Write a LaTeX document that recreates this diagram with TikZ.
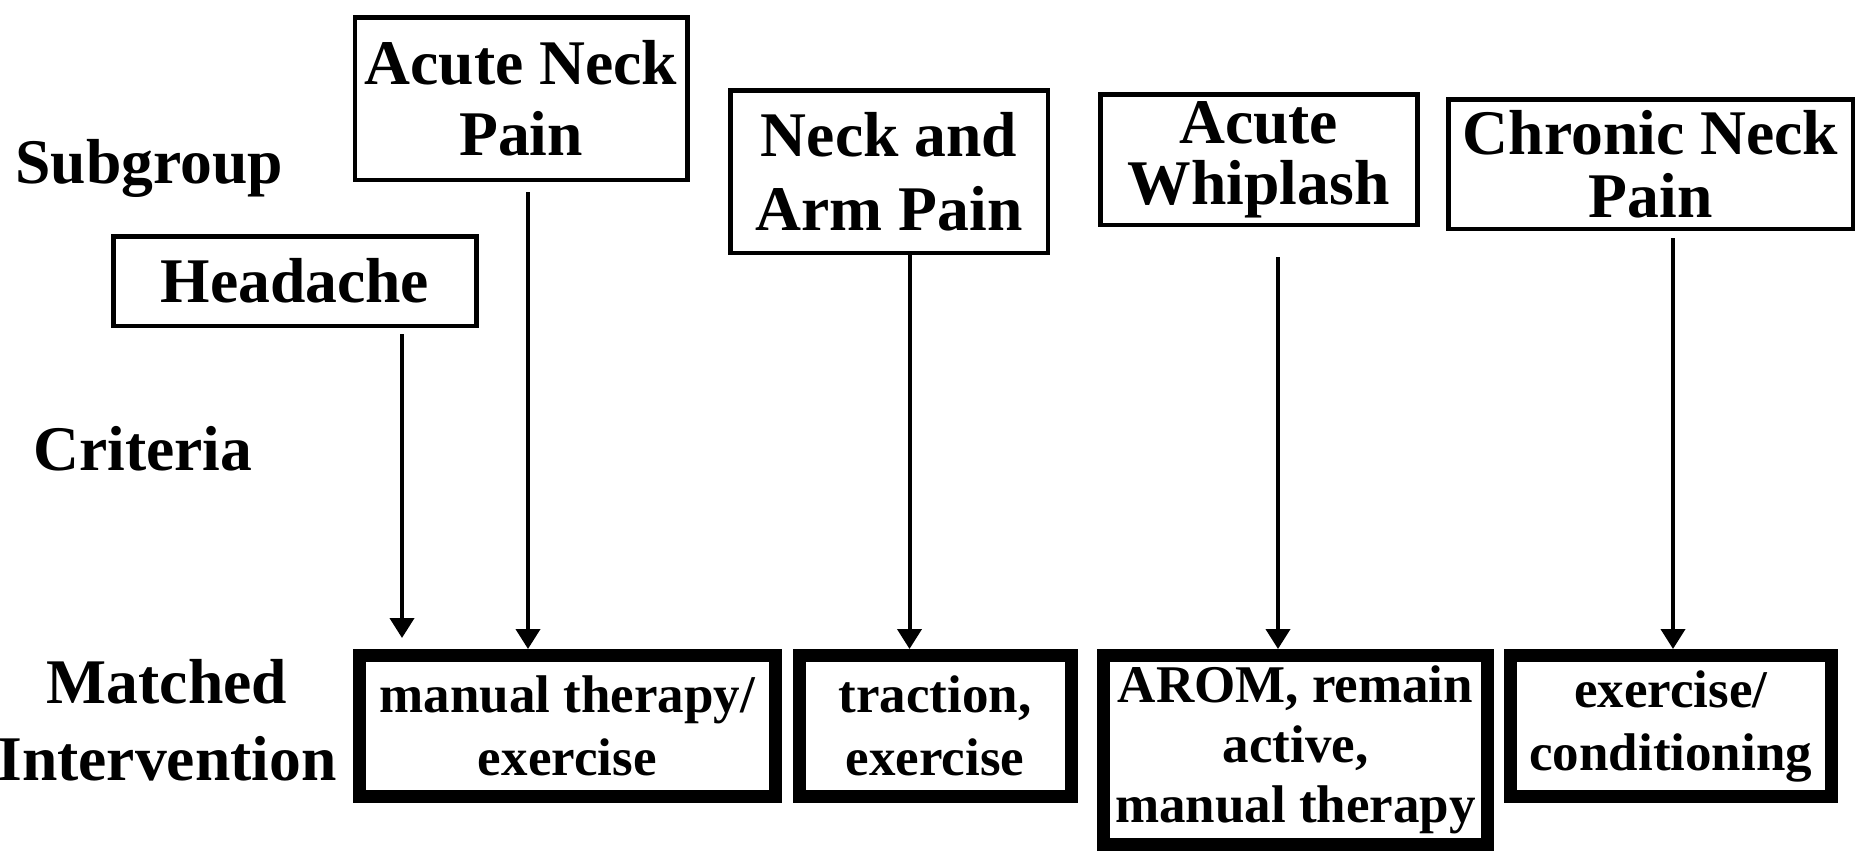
\documentclass[tikz,border=0pt]{standalone}
\usepackage{fontspec}
\setmainfont{Liberation Serif}
\usetikzlibrary{arrows.meta}
\begin{document}
\begin{tikzpicture}[x=0.5pt,y=-0.5pt,
  hdr/.style={draw, line width=2.25pt, align=center, inner sep=0pt, font=\bfseries\fontsize{31.8pt}{35.5pt}\selectfont},
  intv/.style={draw, line width=6.5pt, align=center, inner sep=0pt, font=\bfseries\fontsize{26.5pt}{31.5pt}\selectfont},
  lbl/.style={inner sep=0pt, font=\bfseries\fontsize{31.8pt}{38.5pt}\selectfont},
  arr/.style={line width=2pt, -{Triangle[length=10pt,width=12pt]}}]
\fill[white] (0,0) rectangle (1864,851);
\useasboundingbox (0,0) rectangle (1864,851);

% row labels
\node[lbl, anchor=base west] (sub) at (15,183) {Subgroup};
\node[lbl, anchor=base west] (crit) at (33,470) {Criteria};
\node[lbl, align=center] (match) at (167,720) {Matched\\Intervention};

% subgroup boxes
\node[hdr, minimum width=166.25pt, minimum height=81.25pt] (acute) at (521,98.5) {Acute Neck\\Pain};
\node[hdr, minimum width=181.5pt, minimum height=44.75pt] (head) at (294.8,281) {Headache};
\node[hdr, minimum width=158.75pt, minimum height=81.25pt] (neckarm) at (889,171.5) {Neck and\\[1.5pt]Arm Pain};
\node[hdr, minimum width=158.5pt, minimum height=65.25pt] (whip) at (1258.75,159.5) {Acute\\[-5pt]Whiplash};
\node[hdr, minimum width=202.25pt, minimum height=64.75pt] (chronic) at (1650.5,164) {Chronic Neck\\[-4pt]Pain};

% intervention boxes
\node[intv, minimum width=208.25pt, minimum height=70.5pt] (manual) at (567.25,726) {manual therapy/\\exercise};
\node[intv, minimum width=136pt, minimum height=70.5pt] (traction) at (935,726) {traction,\\exercise};
\node[intv, minimum width=192pt, minimum height=94.5pt] (arom) at (1295.5,750) {AROM, remain\\[-1.5pt]active,\\[-1.5pt]manual therapy};
\node[intv, minimum width=160.25pt, minimum height=70.5pt] (excond) at (1670.75,726) {exercise/\\conditioning};

% arrows
\coordinate (hdend) at (402,638);
\coordinate (xa) at (528,0);
\coordinate (xb) at (909.5,0);
\coordinate (xc) at (1278,0);
\coordinate (xd) at (1673,0);
\draw[arr, shorten <=3pt] (hdend |- head.south) -- (hdend);
\draw[arr, shorten <=5pt] (xa |- acute.south) -- (xa |- manual.north);
\draw[arr] (xb |- neckarm.south) -- (xb |- traction.north);
\draw[arr, shorten <=15pt] (xc |- whip.south) -- (xc |- arom.north);
\draw[arr, shorten <=3.5pt] (xd |- chronic.south) -- (xd |- excond.north);
\end{tikzpicture}
\end{document}
